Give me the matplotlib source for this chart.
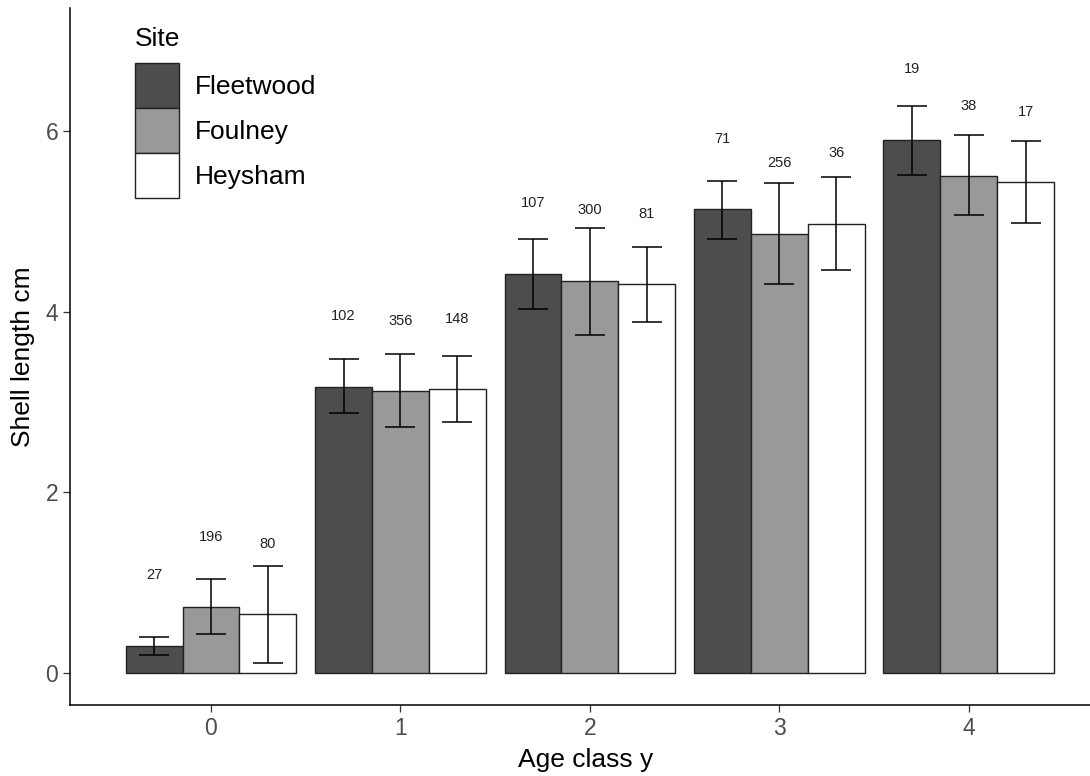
import numpy as np
import matplotlib.pyplot as plt
from matplotlib.patches import Patch

plt.rcParams['font.family'] = ['Liberation Sans', 'DejaVu Sans']

ages = [0, 1, 2, 3, 4]
sites = ['Fleetwood', 'Foulney', 'Heysham']
colours = ['#4d4d4d', '#999999', '#ffffff']

# mean shell length (cm) per age class
mean_len = {
    'Fleetwood': [0.30, 3.17, 4.42, 5.13, 5.90],
    'Foulney':   [0.73, 3.12, 4.34, 4.86, 5.50],
    'Heysham':   [0.65, 3.14, 4.30, 4.97, 5.43],
}
lower = {
    'Fleetwood': [0.20, 2.88, 4.03, 4.80, 5.51],
    'Foulney':   [0.43, 2.72, 3.74, 4.30, 5.07],
    'Heysham':   [0.11, 2.78, 3.89, 4.46, 4.98],
}
upper = {
    'Fleetwood': [0.40, 3.47, 4.80, 5.45, 6.27],
    'Foulney':   [1.04, 3.53, 4.93, 5.42, 5.95],
    'Heysham':   [1.18, 3.51, 4.71, 5.49, 5.89],
}
counts = {
    'Fleetwood': [27, 102, 107, 71, 19],
    'Foulney':   [196, 356, 300, 256, 38],
    'Heysham':   [80, 148, 81, 36, 17],
}

fig = plt.figure(figsize=(10.9, 7.76), dpi=100)
ax = fig.add_axes([0.0642, 0.0915, 0.9358, 0.8982])

x = np.arange(len(ages))
width = 0.3
for i, site in enumerate(sites):
    pos = x + (i - 1) * width
    m = np.array(mean_len[site])
    lo = m - np.array(lower[site])
    hi = np.array(upper[site]) - m
    ax.bar(pos, m, width, color=colours[i], edgecolor='#222222', linewidth=1.0, label=site, zorder=2)
    ax.errorbar(pos, m, yerr=[lo, hi], fmt='none', ecolor='black', elinewidth=1.1,
                capsize=11, capthick=1.1, zorder=3)
    # sample size above each bar
    for px, mv, n in zip(pos, m, counts[site]):
        ax.text(px, mv + 0.78, str(n), ha='center', va='center', fontsize=10.5, color='#222222')

ax.set_xlim(-0.744, 4.64)
ax.set_ylim(-0.354, 7.36)
ax.set_xticks(x)
ax.set_xticklabels([str(a) for a in ages])
ax.set_yticks([0, 2, 4, 6])
ax.tick_params(axis='both', colors='#333333', labelcolor='#4d4d4d', labelsize=16.5,
               length=5, width=0.9, direction='out')
for s in ['top', 'right']:
    ax.spines[s].set_visible(False)
for s in ['left', 'bottom']:
    ax.spines[s].set_linewidth(1.1)
    ax.spines[s].set_color('black')

ax.set_xlabel('Age class y', fontsize=19)
ax.set_ylabel('Shell length cm', fontsize=19)
ax.xaxis.set_label_coords(0.506, -0.062)
ax.yaxis.set_label_coords(-0.034, 0.5)

# legend: touching keys, title drawn separately
fs = 19
handles = [Patch(facecolor=colours[i], edgecolor='#222222', linewidth=1.0) for i in range(3)]
leg = ax.legend(handles, sites, loc='upper left', bbox_to_anchor=(0.0637, 0.9211),
                frameon=False, fontsize=fs, handlelength=1.667, handleheight=2.246,
                labelspacing=0, handletextpad=0.6,
                borderaxespad=0, borderpad=0)
ax.text(0.0637, 0.9455, 'Site', transform=ax.transAxes, fontsize=fs,
        ha='left', va='baseline')

fig.savefig('out.png', dpi=100)
